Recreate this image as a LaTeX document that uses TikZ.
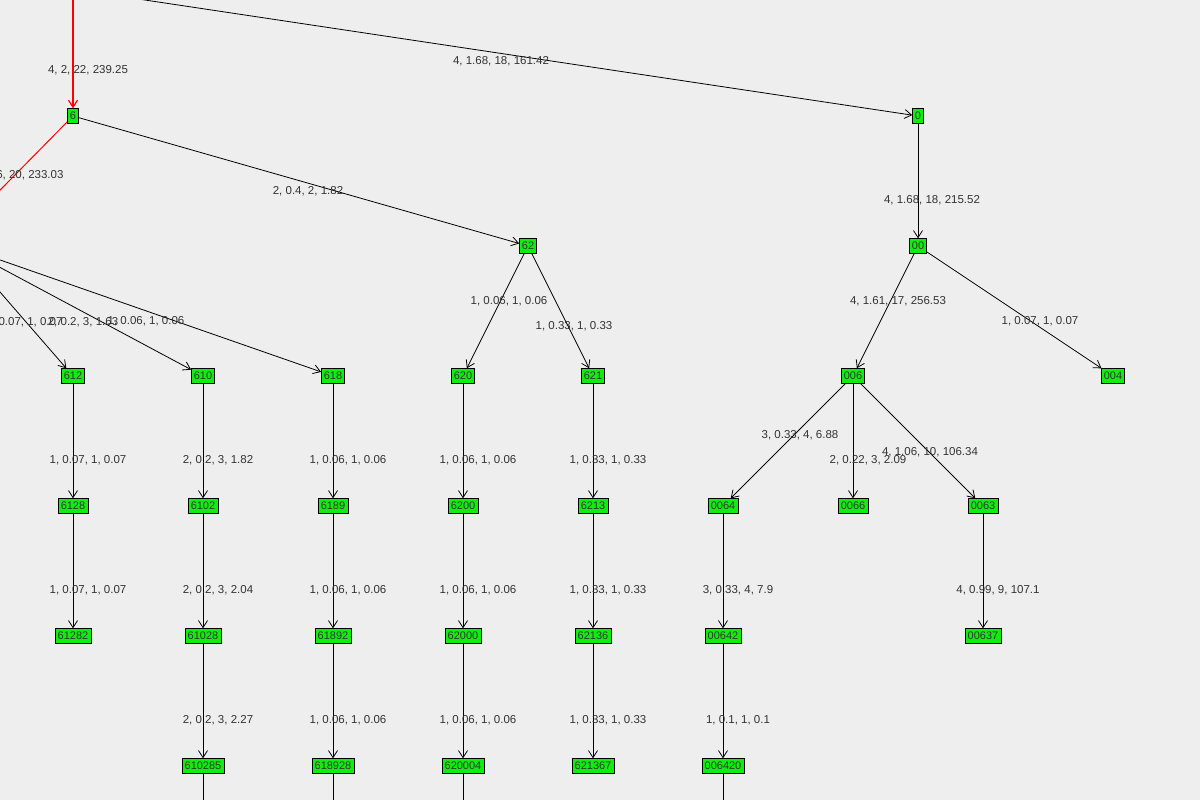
\documentclass[tikz,border=0pt]{standalone}
\usepackage{fontspec}
\setmainfont{Liberation Sans}
\usetikzlibrary{arrows.meta}
\definecolor{bg}{HTML}{EEEEEE}
\definecolor{vert}{HTML}{10EE10}
\definecolor{txt}{HTML}{333333}
\definecolor{rouge}{HTML}{FF0000}
\tikzset{v/.style={draw=black,fill=vert,inner xsep=2.5pt,inner ysep=1.5pt,minimum height=15pt,font=\fontsize{11}{11}\selectfont,text=txt}}
\tikzset{l/.style={font=\fontsize{11.5}{11.5}\selectfont,text=txt}}
\tikzset{e/.style={->,>={Straight Barb[length=7pt,width=9pt]},line width=0.8pt}}

\begin{document}
\begin{tikzpicture}[x=1pt,y=-1pt]
  \fill[bg] (0,0) rectangle (1200,800);
  \useasboundingbox (0,0) rectangle (1200,800);
  \clip (0,0) rectangle (1200,800);
  % off-canvas nodes
  \coordinate (top) at (73,-60);
  \coordinate (root) at (-255,-60);
  \coordinate (n61) at (-55,246);
  \coordinate (n61x) at (-40,246);
  % level 1
  \node[v] (6) at (73,116) {6};
  \node[v] (0) at (918,116) {0};
  % level 2
  \node[v] (62) at (528,246) {62};
  \node[v] (00) at (918,246) {00};
  % level 3
  \node[v] (612) at (73,376) {612};
  \node[v] (610) at (203,376) {610};
  \node[v] (618) at (333,376) {618};
  \node[v] (620) at (463,376) {620};
  \node[v] (621) at (593,376) {621};
  \node[v] (006) at (853,376) {006};
  \node[v] (004) at (1113,376) {004};
  % level 4
  \node[v] (6128) at (73,506) {6128};
  \node[v] (6102) at (203,506) {6102};
  \node[v] (6189) at (333,506) {6189};
  \node[v] (6200) at (463,506) {6200};
  \node[v] (6213) at (593,506) {6213};
  \node[v] (0064) at (723,506) {0064};
  \node[v] (0066) at (853,506) {0066};
  \node[v] (0063) at (983,506) {0063};
  % level 5
  \node[v] (61282) at (73,636) {61282};
  \node[v] (61028) at (203,636) {61028};
  \node[v] (61892) at (333,636) {61892};
  \node[v] (62000) at (463,636) {62000};
  \node[v] (62136) at (593,636) {62136};
  \node[v] (00642) at (723,636) {00642};
  \node[v] (00637) at (983,636) {00637};
  % level 6
  \node[v] (610285) at (203,766) {610285};
  \node[v] (618928) at (333,766) {618928};
  \node[v] (620004) at (463,766) {620004};
  \node[v] (621367) at (593,766) {621367};
  \node[v] (006420) at (723,766) {006420};
  \foreach \n in {610285,618928,620004,006420}
    \draw[line width=0.8pt] (\n.south) -- ++(0,40);
  % edges
  \draw[e,rouge,line width=1.2pt] (top) -- (6);
  \draw[e] (root) -- (0);
  \draw[rouge,line width=1pt] (6) -- (n61);
  \draw[e] (6) -- (62);
  \draw[e] (0) -- (00);
  \draw[e] (n61x) -- (612);
  \draw[e] (n61x) -- (610);
  \draw[e] (n61x) -- (618);
  \draw[e] (62) -- (620);
  \draw[e] (62) -- (621);
  \draw[e] (00) -- (006);
  \draw[e] (00) -- (004);
  \draw[e] (006) -- (0064);
  \draw[e] (006) -- (0066);
  \draw[e] (006) -- (0063);
  \foreach \a/\b in {612/6128,610/6102,618/6189,620/6200,621/6213,
                     6128/61282,6102/61028,6189/61892,6200/62000,6213/62136,0064/00642,0063/00637,
                     61028/610285,61892/618928,62000/620004,62136/621367,00642/006420}
    \draw[e] (\a) -- (\b);
  % labels
  \node[l] (la) at (88,70) {4, 2, 22, 239.25};
  \node[l] (lb) at (501,61) {4, 1.68, 18, 161.42};
  \node[l,anchor=east] (lc) at (67,175) {4, 1.96, 20, 233.03};
  \node[l] (ld) at (308,191) {2, 0.4, 2, 1.82};
  \node[l] (le) at (932,200) {4, 1.68, 18, 215.52};
  \node[l] (lf) at (509,301) {1, 0.06, 1, 0.06};
  \node[l] (lg) at (574,326) {1, 0.33, 1, 0.33};
  \node[l] (lh) at (898,301) {4, 1.61, 17, 256.53};
  \node[l] (li) at (1040,321) {1, 0.07, 1, 0.07};
  \node[l,anchor=east] (lj) at (66,322) {1, 0.07, 1, 0.07};
  \node[l] (lk) at (83,322) {2, 0.2, 3, 1.63};
  \node[l] (lm) at (146,321) {1, 0.06, 1, 0.06};
  \node[l] (ln) at (800,435) {3, 0.33, 4, 6.88};
  \node[l] (lo) at (868,460) {2, 0.22, 3, 2.09};
  \node[l] (lp) at (930,452) {4, 1.06, 10, 106.34};
  \foreach \x/\t [count=\i] in {88/{1, 0.07, 1, 0.07},218/{2, 0.2, 3, 1.82},348/{1, 0.06, 1, 0.06},478/{1, 0.06, 1, 0.06},608/{1, 0.33, 1, 0.33}}
    \node[l] (r4\i) at (\x,460) {\t};
  \foreach \x/\t [count=\i] in {88/{1, 0.07, 1, 0.07},218/{2, 0.2, 3, 2.04},348/{1, 0.06, 1, 0.06},478/{1, 0.06, 1, 0.06},608/{1, 0.33, 1, 0.33},738/{3, 0.33, 4, 7.9},998/{4, 0.99, 9, 107.1}}
    \node[l] (r5\i) at (\x,590) {\t};
  \foreach \x/\t [count=\i] in {218/{2, 0.2, 3, 2.27},348/{1, 0.06, 1, 0.06},478/{1, 0.06, 1, 0.06},608/{1, 0.33, 1, 0.33},738/{1, 0.1, 1, 0.1}}
    \node[l] (r6\i) at (\x,720) {\t};
\end{tikzpicture}
\end{document}
